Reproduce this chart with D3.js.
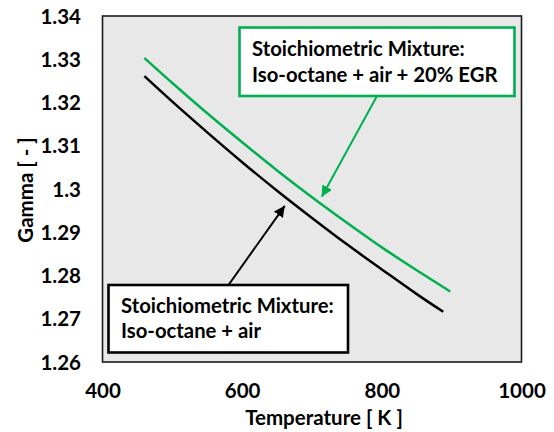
<!DOCTYPE html>
<html>
<head>
<meta charset="utf-8">
<script src="https://cdn.jsdelivr.net/npm/d3@7"></script>
<style>
  body { margin: 0; background: #fff; }
  svg { display: block; }
  text { font-family: Lato, "Open Sans", "DejaVu Sans", sans-serif; font-weight: bold; fill: #000; }
</style>
</head>
<body>
<svg id="chart" width="554" height="432"></svg>
<script>
// Ratio of specific heats vs. temperature, stoichiometric iso-octane mixtures
const temperatureEGR = [460, 500, 550, 600, 650, 700, 750, 800, 850, 898];
const gammaEGR       = [1.3303, 1.3245, 1.3175, 1.3108, 1.3043, 1.2981, 1.2922, 1.2865, 1.2812, 1.2763];

const temperatureAir = [460, 500, 550, 600, 650, 700, 750, 800, 850, 888];
const gammaAir       = [1.3261, 1.3202, 1.3131, 1.3062, 1.2996, 1.2933, 1.2872, 1.2814, 1.2757, 1.2716];

const xTicks = [400, 600, 800, 1000];
const yTicks = [1.26, 1.27, 1.28, 1.29, 1.30, 1.31, 1.32, 1.33, 1.34];

const xTitle = "Temperature [ K ]";
const yTitle = "Gamma [ - ]";
const labelEGR = ["Stoichiometric Mixture:", "Iso-octane + air + 20% EGR"];
const labelAir = ["Stoichiometric Mixture:", "Iso-octane + air"];

// Points the callout arrows aim at (temperature, gamma)
const pointerEGR = [714, 1.2982];
const pointerAir = [661, 1.2961];

const GREEN = "#00b050";
const plot = { left: 102.5, right: 521.5, top: 16, bottom: 362 };
const AXIS_FONT = 20.5;
const NOTE_FONT = 20.3;

const svg = d3.select("#chart");

const x = d3.scaleLinear().domain([400, 1000]).range([plot.left, plot.right]);
const y = d3.scaleLinear().domain([1.26, 1.34]).range([plot.bottom, plot.top]);

// plot area
svg.append("rect")
  .attr("x", plot.left).attr("y", plot.top)
  .attr("width", plot.right - plot.left).attr("height", plot.bottom - plot.top)
  .attr("fill", "#e8e8e8").attr("stroke", "#1a1a1a").attr("stroke-width", 1.6);

// axes (labels only, no tick marks)
const xAxis = d3.axisBottom(x).tickValues(xTicks).tickSize(0).tickPadding(0)
  .tickFormat(d3.format("d"));
const gx = svg.append("g").attr("transform", `translate(0,${plot.bottom})`).call(xAxis);
gx.select(".domain").remove();
gx.selectAll("text").attr("font-size", AXIS_FONT).attr("dy", null).attr("y", 35.5);

const yAxis = d3.axisLeft(y).tickValues(yTicks).tickSize(0).tickPadding(0)
  .tickFormat(d => d3.format("")(+d.toFixed(2)));
const gy = svg.append("g").attr("transform", "translate(81,0)").call(yAxis);
gy.select(".domain").remove();
gy.selectAll("text").attr("font-size", AXIS_FONT).attr("dy", "0.35em").attr("x", 0);

svg.selectAll("g").attr("font-family", null);
svg.selectAll(".tick text").attr("fill", "#000");

// axis titles
svg.append("text")
  .attr("x", 324).attr("y", 425)
  .attr("text-anchor", "middle").attr("font-size", AXIS_FONT)
  .text(xTitle);

svg.append("text")
  .attr("transform", `translate(33,190) rotate(-90)`)
  .attr("text-anchor", "middle").attr("font-size", AXIS_FONT)
  .text(yTitle);

// curves
const line = d3.line().x(d => x(d[0])).y(d => y(d[1])).curve(d3.curveMonotoneX);

svg.append("path")
  .datum(d3.zip(temperatureAir, gammaAir))
  .attr("fill", "none").attr("stroke", "#000").attr("stroke-width", 2.5)
  .attr("d", line);

svg.append("path")
  .datum(d3.zip(temperatureEGR, gammaEGR))
  .attr("fill", "none").attr("stroke", GREEN).attr("stroke-width", 2.5)
  .attr("d", line);

// arrowheads
const defs = svg.append("defs");
function marker(id, color) {
  defs.append("marker")
    .attr("id", id).attr("viewBox", "0 0 10 10")
    .attr("refX", 10).attr("refY", 5)
    .attr("markerWidth", 5.5).attr("markerHeight", 5.5)
    .attr("markerUnits", "strokeWidth")
    .attr("orient", "auto")
    .append("path").attr("d", "M0,0 L10,5 L0,10 z").attr("fill", color);
}
marker("head-green", GREEN);
marker("head-black", "#000");

// callout boxes with arrows
function callout(box, lines, color, textX, baselines, from, to, headId) {
  svg.append("line")
    .attr("x1", from[0]).attr("y1", from[1])
    .attr("x2", x(to[0])).attr("y2", y(to[1]))
    .attr("stroke", color).attr("stroke-width", 2)
    .attr("marker-end", `url(#${headId})`);
  svg.append("rect")
    .attr("x", box.x).attr("y", box.y).attr("width", box.w).attr("height", box.h)
    .attr("fill", "#fff").attr("stroke", color).attr("stroke-width", 2.6);
  lines.forEach((t, i) => {
    svg.append("text")
      .attr("x", textX).attr("y", baselines[i])
      .attr("font-size", NOTE_FONT)
      .text(t);
  });
}

callout({ x: 239.5, y: 27.5, w: 275, h: 68.5 }, labelEGR, GREEN,
  252, [55.5, 82], [377, 96], pointerEGR, "head-green");

callout({ x: 108.5, y: 285, w: 239.5, h: 67.5 }, labelAir, "#000",
  121, [313, 338], [228.5, 285], pointerAir, "head-black");
</script>
</body>
</html>
